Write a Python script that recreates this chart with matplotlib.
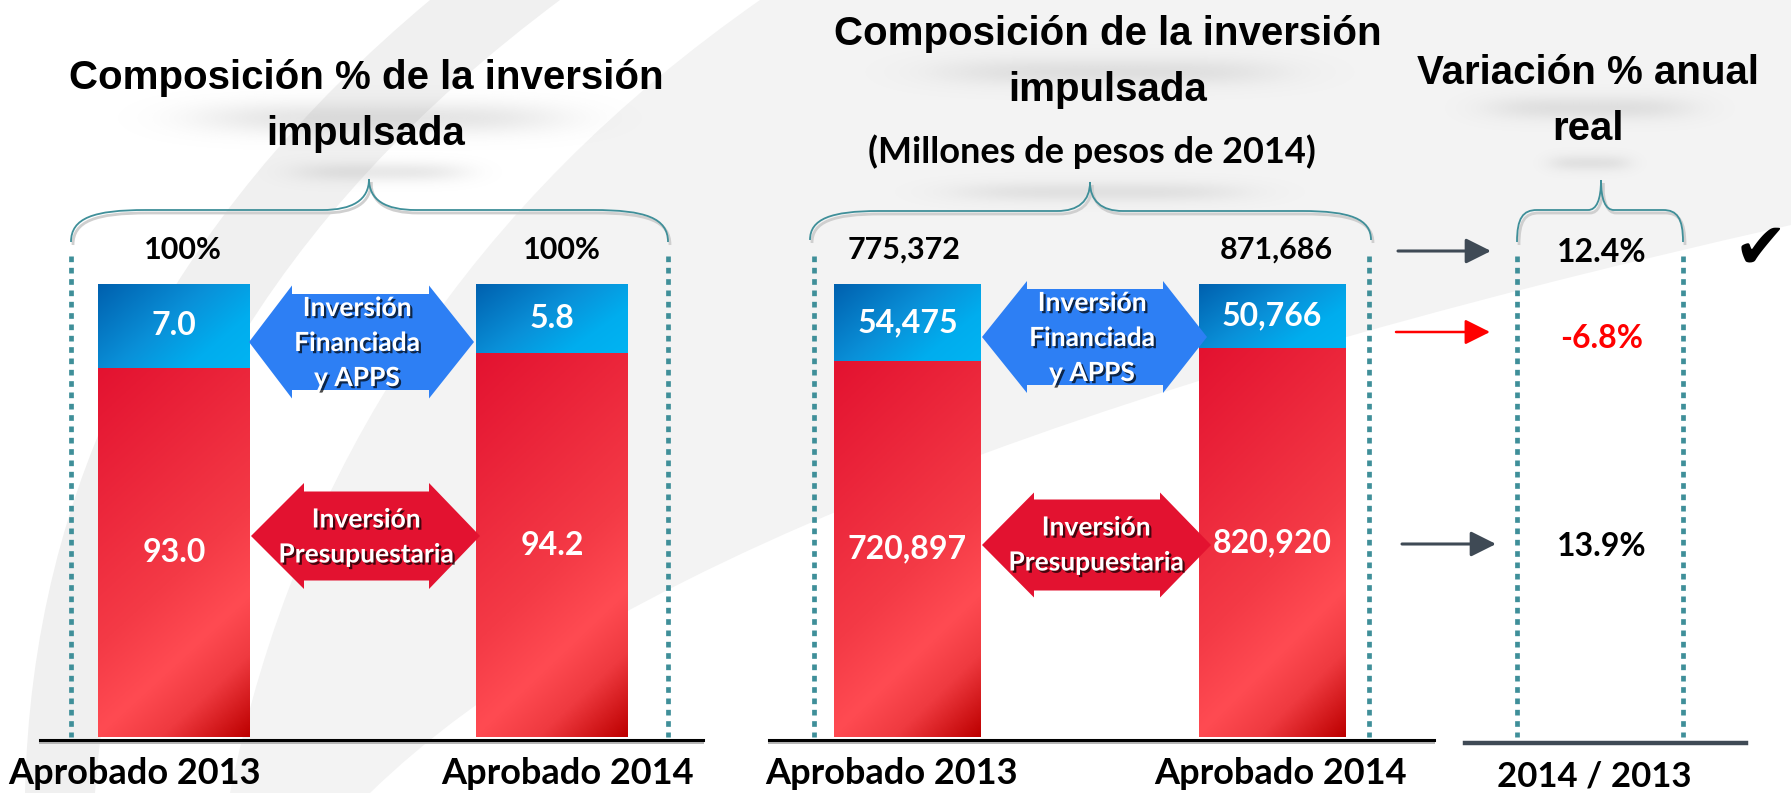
import numpy as np
import matplotlib.pyplot as plt
import matplotlib.patheffects as pe
from matplotlib.path import Path
from matplotlib.patches import PathPatch, Polygon
from matplotlib.colors import LinearSegmentedColormap

# data
years = ["Aprobado 2013", "Aprobado 2014"]
pct_financiada = [7.0, 5.8]
pct_presupuestaria = [93.0, 94.2]
mdp_total = [775372, 871686]
mdp_financiada = [54475, 50766]
mdp_presupuestaria = [720897, 820920]
var_values = [12.4, -6.8, 13.9]   # total, financiada, presupuestaria

W, H = 1791, 793
LABEL_FONT = ['Lato', 'DejaVu Sans']
TITLE_FONT = ['Liberation Sans', 'DejaVu Sans']
TEAL = '#3f8f99'
SLATE = '#3f4a55'

red_cmap = LinearSegmentedColormap.from_list(
    'red', [(0, '#e31230'), (0.55, '#f43a46'), (0.72, '#ff4b52'), (0.84, '#ef3a40'), (1, '#bd0000')])
blue_cmap = LinearSegmentedColormap.from_list(
    'blue', [(0, '#0060ae'), (0.45, '#0a90d8'), (0.75, '#00adee'), (1, '#00b4f2')])


def pct_scale(top_frac, brk=90.0):
    # top of the 0-100 axis is stretched, like in the original slide
    def fwd(y):
        y = np.asarray(y, dtype=float)
        return np.where(y < brk, y / brk * top_frac,
                        top_frac + (y - brk) / (100 - brk) * (1 - top_frac))

    def inv(v):
        v = np.asarray(v, dtype=float)
        return np.where(v < top_frac, v / top_frac * brk,
                        brk + (v - top_frac) / (1 - top_frac) * (100 - brk))
    return fwd, inv


def bar_panel(fig, left, right, top, bottom, xlim, top_frac):
    ax = fig.add_axes([left / W, 1 - bottom / H, (right - left) / W, (bottom - top) / H], zorder=1)
    fwd, inv = pct_scale(top_frac)
    ax.set_yscale('function', functions=(fwd, inv))
    ax.set_xlim(*xlim)
    ax.set_ylim(0, 100)
    ax.axis('off')
    return ax, fwd, inv


def gradient(ax, patch, cmap, kind):
    x0, y0 = patch.get_x(), patch.get_y()
    x1, y1 = x0 + patch.get_width(), y0 + patch.get_height()
    to_axes = ax.transData + ax.transAxes.inverted()
    (a0, b0), (a1, b1) = to_axes.transform([(x0, y0), (x1, y1)])
    u, v = np.meshgrid(np.linspace(0, 1, 120), np.linspace(0, 1, 400))
    if kind == 'red':
        t = (0.8 * v + 0.3 * u) / 1.1
    else:
        t = (0.7 * u + 0.45 * v) / 1.15
    im = ax.imshow(t, cmap=cmap, vmin=0, vmax=1, origin='upper', aspect='auto',
                   extent=[a0, a1, b0, b1], transform=ax.transAxes,
                   interpolation='bilinear', zorder=2.5)
    im.set_clip_path(patch)


def stacked(ax, fwd, inv, red_vals, blue_vals, width, xlim):
    x = np.arange(len(red_vals))
    reds = ax.bar(x, red_vals, width, color='#ee2c3c', zorder=2)
    blues = ax.bar(x, blue_vals, width, bottom=red_vals, color='#0a8fd8', zorder=2)
    for p in reds:
        gradient(ax, p, red_cmap, 'red')
    for p in blues:
        gradient(ax, p, blue_cmap, 'blue')
    ax.set_xlim(*xlim)
    ax.set_ylim(0, 100)
    return x


def seg_mid(fwd, inv, lo, hi):
    return float(inv((fwd(lo) + fwd(hi)) / 2))


def brace(ax, x0, x1, xm, y_top, y_mid, y_end, re, rm):
    verts = [(x0, y_end),
             (x0, y_mid + 8), (x0 + re * 0.3, y_mid), (x0 + re, y_mid),
             (xm - rm, y_mid),
             (xm - rm * 0.35, y_mid), (xm, y_mid - 10), (xm, y_top),
             (xm, y_mid - 10), (xm + rm * 0.35, y_mid), (xm + rm, y_mid),
             (x1 - re, y_mid),
             (x1 - re * 0.3, y_mid), (x1, y_mid + 8), (x1, y_end)]
    codes = [Path.MOVETO] + [Path.CURVE4] * 3 + [Path.LINETO] + [Path.CURVE4] * 6 + \
            [Path.LINETO] + [Path.CURVE4] * 3
    shadow = Path([(vx + 2, vy + 3) for vx, vy in verts], codes)
    ax.add_patch(PathPatch(shadow, fc='none', ec='#cfcfcf', lw=2.0, zorder=3))
    ax.add_patch(PathPatch(Path(verts, codes), fc='none', ec=TEAL, lw=1.3, zorder=4))


def double_arrow(ax, tip_l, tip_r, base_l, base_r, cy, head_h, body_h, color):
    pts = [(tip_l, cy), (base_l, cy - head_h / 2), (base_l, cy - body_h / 2),
           (base_r, cy - body_h / 2), (base_r, cy - head_h / 2), (tip_r, cy),
           (base_r, cy + head_h / 2), (base_r, cy + body_h / 2),
           (base_l, cy + body_h / 2), (base_l, cy + head_h / 2)]
    ax.add_patch(Polygon(pts, closed=True, fc=color, ec='none', zorder=5))


def lines_text(ax, x, cy, lines, pitch, **kw):
    n = len(lines)
    for k, s in enumerate(lines):
        ax.text(x, cy + (k - (n - 1) / 2) * pitch, s, ha='center', va='center', **kw)


def soft_blob(ax, cx, cy, w, h, alpha):
    yy, xx = np.mgrid[-1:1:60j, -1:1:200j]
    a = alpha * np.exp(-((xx / 0.6) ** 4 + (yy / 0.5) ** 2) * 1.5)
    img = np.zeros((60, 200, 4))
    img[..., :3] = 0.6
    img[..., 3] = a
    ax.imshow(img, extent=[cx - w / 2, cx + w / 2, cy + h / 2, cy - h / 2],
              aspect='auto', interpolation='bilinear', zorder=1)


fig = plt.figure(figsize=(W / 100, H / 100), dpi=100)

# background layer
bg = fig.add_axes([0, 0, 1, 1], zorder=0)
bg.set_xlim(0, W)
bg.set_ylim(H, 0)
bg.axis('off')
band1 = Path([(25, H), (35, 330), (430, 0), (560, 0), (130, 320), (95, H), (25, H)],
             [Path.MOVETO, Path.CURVE3, Path.CURVE3, Path.LINETO, Path.CURVE3, Path.CURVE3, Path.CLOSEPOLY])
bg.add_patch(PathPatch(band1, fc='#f0f0f0', ec='none', zorder=0))
band2 = Path([(230, H), (330, 300), (760, 0), (W, 0), (W, 225), (700, 470), (370, H), (230, H)],
             [Path.MOVETO, Path.CURVE3, Path.CURVE3, Path.LINETO, Path.LINETO,
              Path.CURVE3, Path.CURVE3, Path.CLOSEPOLY])
bg.add_patch(PathPatch(band2, fc='#f3f3f3', ec='none', zorder=0))
soft_blob(bg, 380, 118, 680, 80, 0.25)
soft_blob(bg, 380, 172, 320, 50, 0.22)
soft_blob(bg, 1110, 72, 640, 70, 0.22)
soft_blob(bg, 1100, 192, 540, 50, 0.20)
soft_blob(bg, 1590, 108, 380, 60, 0.22)
soft_blob(bg, 1590, 163, 150, 40, 0.20)

# left panel: composition %
ax1, f1, i1 = bar_panel(fig, 71, 668, 284, 737, (-0.2725, 1.3069), 0.736)
x1 = stacked(ax1, f1, i1, pct_presupuestaria, pct_financiada, 0.402, (-0.2725, 1.3069))

# middle panel: millions of pesos, bars drawn as shares of each year's total
share_pres = [p / t * 100 for p, t in zip(mdp_presupuestaria, mdp_total)]
share_fin = [f / t * 100 for f, t in zip(mdp_financiada, mdp_total)]
ax2, f2, i2 = bar_panel(fig, 814, 1369, 284, 737, (-0.2565, 1.266), 0.757)
x2 = stacked(ax2, f2, i2, share_pres, share_fin, 0.403, (-0.2565, 1.266))

lab = dict(family=LABEL_FONT, fontweight='bold')
for i in x1:
    ax1.text(i, seg_mid(f1, i1, 0, pct_presupuestaria[i]), f"{pct_presupuestaria[i]:.1f}",
             ha='center', va='center', color='white', fontsize=23, zorder=4, **lab)
    ax1.text(i, seg_mid(f1, i1, pct_presupuestaria[i], 100), f"{pct_financiada[i]:.1f}",
             ha='center', va='center', color='white', fontsize=23, zorder=4, **lab)
    ax1.annotate("100%", xy=(i, 100), xytext=([9, 10][i], 34), textcoords='offset pixels',
                 ha='center', va='center', color='black', fontsize=22, annotation_clip=False, **lab)
    ax1.annotate(years[i], xy=(i, 0), xytext=([-39, 16][i], -36), textcoords='offset pixels',
                 ha='center', va='center', color='black', fontsize=26, annotation_clip=False, **lab)

for i in x2:
    ax2.text(i, seg_mid(f2, i2, 0, share_pres[i]), f"{mdp_presupuestaria[i]:,}",
             ha='center', va='center', color='white', fontsize=23, zorder=4, **lab)
    ax2.text(i, seg_mid(f2, i2, share_pres[i], 100), f"{mdp_financiada[i]:,}",
             ha='center', va='center', color='white', fontsize=23, zorder=4, **lab)
    ax2.annotate(f"{mdp_total[i]:,}", xy=(i, 100), xytext=([-3, 4][i], 34), textcoords='offset pixels',
                 ha='center', va='center', color='black', fontsize=22, annotation_clip=False, **lab)
    ax2.annotate(years[i], xy=(i, 0), xytext=([-16, 8][i], -36), textcoords='offset pixels',
                 ha='center', va='center', color='black', fontsize=26, annotation_clip=False, **lab)

# foreground layer: titles, braces, guides, arrows
fg = fig.add_axes([0, 0, 1, 1], zorder=2)
fg.set_xlim(0, W)
fg.set_ylim(H, 0)
fg.axis('off')

ttl = dict(family=TITLE_FONT, fontweight='bold', fontsize=29, color='black')
lines_text(fg, 366, 106, ["Composición % de la inversión", "impulsada"], 56, **ttl)
lines_text(fg, 1108, 62, ["Composición de la inversión", "impulsada"], 56, **ttl)
fg.text(1092, 152, "(Millones de pesos de 2014)", ha='center', va='center',
        fontsize=26, color='black', **lab)
lines_text(fg, 1588, 101, ["Variación % anual", "real"], 55, **ttl)

brace(fg, 71, 668, 369, 179, 210, 242, 75, 47)
brace(fg, 810, 1371, 1090, 182, 211, 240, 69, 33)
brace(fg, 1517, 1683, 1601, 180, 210, 242, 20, 13)

for gx in [71, 668, 814, 1369, 1517, 1683]:
    fg.plot([gx, gx], [256, 737], color=TEAL, lw=3.4, linestyle=(0, (1.2, 1.2)),
            solid_capstyle='butt', dash_capstyle='butt', zorder=3)

for xa, xb in [(40, 703), (769, 1434)]:
    fg.plot([xa, xb], [743, 743], color='#b5b5b5', lw=1.4, zorder=3)
    fg.plot([xa, xb], [740, 740], color='black', lw=2.2, zorder=4)
fg.plot([1465, 1746], [743, 743], color=SLATE, lw=3.2, zorder=4)
fg.text(1594, 777, "2014 / 2013", ha='center', va='center', fontsize=25, color='black', **lab)

shadow_fx = [pe.SimplePatchShadow(offset=(1.6, -1.6), shadow_rgbFace='black', alpha=0.7), pe.Normal()]
arr_txt = dict(family=LABEL_FONT, fontweight='bold', fontsize=19, color='white',
               path_effects=shadow_fx, zorder=6)
double_arrow(fg, 249, 474, 292, 429, 342, 113, 96, '#2d7ff4')
lines_text(fg, 357, 343, ["Inversión", "Financiada", "y APPS"], 35, **arr_txt)
double_arrow(fg, 251, 480, 304, 429, 536, 106, 89, '#e31230')
lines_text(fg, 366, 537, ["Inversión", "Presupuestaria"], 35, **arr_txt)
double_arrow(fg, 982, 1207, 1027, 1163, 337, 112, 96, '#2d7ff4')
lines_text(fg, 1092, 338, ["Inversión", "Financiada", "y APPS"], 35, **arr_txt)
double_arrow(fg, 982, 1211, 1034, 1160, 545, 105, 91, '#e31230')
lines_text(fg, 1096, 545, ["Inversión", "Presupuestaria"], 35, **arr_txt)

# annual real variation column
var_rows = [(252, 251, 1398, 1491), (338, 332, 1396, 1490), (547, 544, 1402, 1496)]
for val, (ty, ay, xa, xb) in zip(var_values, var_rows):
    col = 'red' if val < 0 else 'black'
    acol = 'red' if val < 0 else SLATE
    fg.annotate('', xy=(xb, ay), xytext=(xa, ay),
                arrowprops=dict(arrowstyle='-|>,head_length=0.7,head_width=0.35',
                                color=acol, lw=2.2 if val >= 0 else 1.8, mutation_scale=22,
                                shrinkA=0, shrinkB=0))
    fg.text(1602, ty, f"{val:.1f}%", ha='center', va='center', fontsize=23, color=col, **lab)

fg.text(1760, 250, "\u2714", ha='center', va='center', fontsize=46, color='black',
        family=['DejaVu Sans'])

fig.savefig("out.png", dpi=100)
